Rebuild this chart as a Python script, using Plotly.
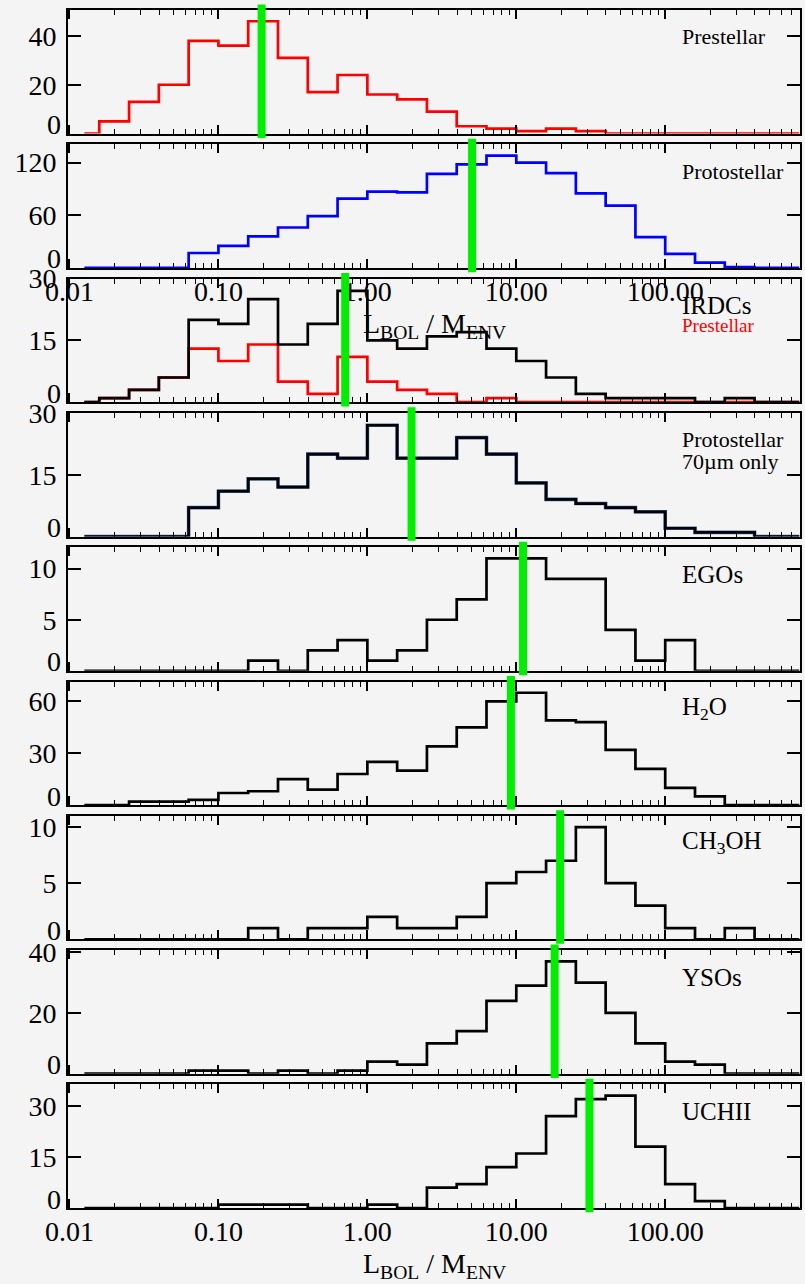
import plotly.graph_objects as go

# ---- data ----
LOG_BIN_CENTERS = [-1.9, -1.7, -1.5, -1.3, -1.1, -0.9, -0.7, -0.5, -0.3, -0.1,
                   0.1, 0.3, 0.5, 0.7, 0.9, 1.1, 1.3, 1.5, 1.7, 1.9,
                   2.1, 2.3, 2.5, 2.7, 2.9]

prestellar   = [0, 5, 13, 20, 38, 36, 46, 31, 17, 24, 16, 14, 9, 3, 2, 1, 2, 1, 0, 0, 0, 0, 0, 0, 0]
protostellar = [0, 0, 0, 0, 17, 25, 36, 46, 59, 79, 87, 86, 107, 118, 128, 120, 108, 85, 71, 35, 16, 6, 1, 0, 0]
irdc_all     = [0, 1, 3, 6, 20, 19, 25, 14, 19, 27, 15, 13, 16, 17, 13, 10, 6, 2, 1, 1, 1, 0, 1, 0, 0]
irdc_pre     = [0, 1, 3, 6, 13, 10, 14, 5, 2, 11, 5, 3, 2, 0, 1, 0, 0, 0, 0, 0, 0, 0, 0, 0, 0]
proto70      = [0, 0, 0, 0, 7, 11, 14, 12, 20, 19, 27, 19, 19, 24, 20, 13, 9, 8, 7, 6, 2, 1, 1, 0, 0]
egos         = [0, 0, 0, 0, 0, 0, 1, 0, 2, 3, 1, 2, 5, 7, 11, 11, 9, 9, 4, 1, 3, 0, 0, 0, 0]
h2o          = [0, 0, 2, 2, 3, 7, 8, 15, 9, 18, 25, 20, 34, 45, 60, 65, 49, 48, 32, 21, 10, 5, 0, 0, 0]
ch3oh        = [0, 0, 0, 0, 0, 0, 1, 0, 1, 1, 2, 1, 1, 2, 5, 6, 7, 10, 5, 3, 1, 0, 1, 0, 0]
ysos         = [0, 0, 0, 0, 1, 1, 0, 1, 0, 1, 4, 3, 10, 14, 24, 29, 37, 30, 20, 10, 4, 3, 0, 0, 0]
uchii        = [0, 0, 0, 0, 0, 1, 1, 1, 0, 0, 1, 0, 6, 7, 12, 16, 27, 32, 33, 18, 7, 2, 0, 0, 0]

medians = [0.195, 5.05, 0.71, 1.98, 11.1, 9.2, 19.7, 18.1, 31.0]
y_max = [50.6, 140.8, 30.0, 30.0, 12.1, 71.5, 11.0, 40.7, 36.3]
y_ticks = [[0, 20, 40], [0, 60, 120], [0, 15, 30], [0, 15, 30], [0, 5, 10],
           [0, 30, 60], [0, 5, 10], [0, 20, 40], [0, 15, 30]]
panel_labels = [["Prestellar"], ["Protostellar"], ["IRDCs"], ["Protostellar", "70µm only"],
                ["EGOs"], ["H<sub>2</sub>O"], ["CH<sub>3</sub>OH"], ["YSOs"], ["UCHII"]]
x_tick_vals = [0.01, 0.1, 1, 10, 100]
x_tick_text = ["0.01", "0.10", "1.00", "10.00", "100.00"]
x_title = "L<sub>BOL</sub> / M<sub>ENV</sub>"

# ---- figure ----
W, H = 805, 1284
BG = "#f4f4f4"
FONT = "Liberation Serif, Times New Roman, serif"
GREEN = "#00ee00"

x_vals = [10 ** c for c in LOG_BIN_CENTERS]
minor_vals = [m * 10 ** e for e in range(-2, 3) for m in range(2, 10)]

series = [
    [(prestellar, "#ff0000")],
    [(protostellar, "#0000ff")],
    [(irdc_pre, "#ff0000"), (irdc_all, "#000000")],
    [(proto70, "#3a6aa8", 3.6), (proto70, "#000000")],
    [(egos, "#000000")],
    [(h2o, "#000000")],
    [(ch3oh, "#000000")],
    [(ysos, "#000000")],
    [(uchii, "#000000")],
]

fig = go.Figure()
layout = {}
annotations = []
shapes = []

for i in range(9):
    n = "" if i == 0 else str(i + 1)
    xa, ya = "x" + n, "y" + n
    top_px = 10 + 134.3 * i
    bot_px = 133.6 + 134.3 * i
    dom = [1 - bot_px / H, 1 - top_px / H]

    for s in series[i]:
        vals, col = s[0], s[1]
        w = s[2] if len(s) > 2 else 2.7
        fig.add_trace(go.Scatter(x=x_vals, y=vals, mode="lines",
                                 line=dict(shape="hvh", color=col, width=w),
                                 xaxis=xa, yaxis=ya, showlegend=False,
                                 hoverinfo="skip"))

    show_x = i in (1, 8)
    layout["xaxis" + n] = dict(
        type="log", range=[-2.01, 2.905], domain=[0, 1], anchor=ya,
        automargin=False,
        showline=True, linecolor="black", linewidth=2, mirror="allticks",
        ticks="inside", ticklen=9, tickwidth=1.5, tickcolor="black",
        tickmode="array", tickvals=x_tick_vals, ticktext=x_tick_text,
        showticklabels=show_x, ticklabelstandoff=-3,
        tickfont=dict(family=FONT, size=28, color="black"),
        minor=dict(ticks="inside", ticklen=5, tickwidth=1.3, tickcolor="black",
                   tickmode="array", tickvals=minor_vals, showgrid=False),
        showgrid=False, zeroline=False, fixedrange=True,
    )
    layout["yaxis" + n] = dict(
        range=[0, y_max[i]], domain=dom, anchor=xa,
        automargin=False,
        showline=True, linecolor="black", linewidth=2, mirror="allticks",
        ticks="inside", ticklen=13, tickwidth=1.5, tickcolor="black",
        tickmode="array", tickvals=y_ticks[i],
        ticktext=[""] + [str(v) for v in y_ticks[i][1:]],
        ticklabelstandoff=4,
        tickfont=dict(family=FONT, size=28, color="black"),
        showgrid=False, zeroline=False, fixedrange=True,
    )
    # bottom "0" label, raised as in the reference
    annotations.append(dict(text="0", xref="paper", x=0, xanchor="right", xshift=-5,
                            yref=ya, y=0, yanchor="middle", yshift=9, showarrow=False,
                            font=dict(family=FONT, size=28, color="black")))
    # panel label(s)
    fsize = 22 if i in (0, 1, 3) else 25
    for j, line in enumerate(panel_labels[i]):
        annotations.append(dict(text=line, xref=xa + " domain", x=0.836,
                                xanchor="left", yref=ya + " domain", y=1,
                                yanchor="middle", yshift=-27 - 22 * j, showarrow=False,
                                font=dict(family=FONT, size=fsize, color="black")))
    if i == 2:
        annotations.append(dict(text="Prestellar", xref=xa + " domain", x=0.836,
                                xanchor="left", yref=ya + " domain", y=1,
                                yanchor="middle", yshift=-47, showarrow=False,
                                font=dict(family=FONT, size=19, color="#ff0000")))
    # median marker
    shapes.append(dict(type="line", xref=xa, x0=medians[i], x1=medians[i],
                       yref=ya + " domain", y0=-0.035, y1=1.045,
                       line=dict(color=GREEN, width=8), layer="above"))

# x-axis titles (below panel 2 and panel 9)
for y_px in (326, 1265):
    annotations.append(dict(text=x_title, xref="paper", x=0.5, xanchor="center",
                            yref="paper", y=1 - y_px / H, yanchor="middle",
                            showarrow=False,
                            font=dict(family=FONT, size=28, color="black")))

fig.update_layout(
    width=W, height=H,
    margin=dict(l=68, r=5, t=0, b=0, pad=0, autoexpand=False),
    paper_bgcolor=BG, plot_bgcolor=BG,
    showlegend=False,
    annotations=annotations, shapes=shapes,
    **layout,
)

fig.write_html("out.html")
